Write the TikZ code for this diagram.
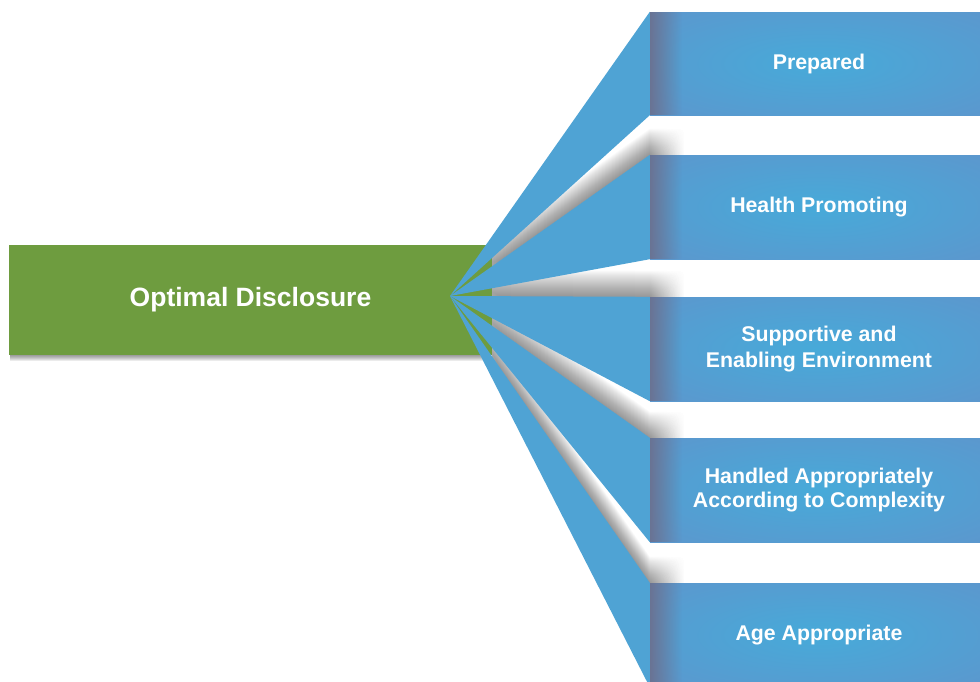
\documentclass[tikz,border=0pt]{standalone}
\usepackage{fontspec}
\setmainfont{Liberation Sans}
\usetikzlibrary{fadings}
\definecolor{grn}{HTML}{6E9C3F}
\definecolor{fanblue}{HTML}{4FA3D4}
\definecolor{boxin}{HTML}{47AAD9}
\definecolor{boxout}{HTML}{6B89C5}
\definecolor{edgesh}{HTML}{6A7393}
\pgfdeclareradialshading{boxrad}{\pgfpoint{0bp}{0bp}}{color(0bp)=(boxin); color(62bp)=(boxout)}
\tikzfading[name=fadeR, left color=transparent!0, right color=transparent!100]
\tikzfading[name=fadeL, left color=transparent!100, right color=transparent!0]
\pgfdeclarelayer{bgZ}
\pgfdeclarelayer{bgA}
\pgfdeclarelayer{bgB}
\pgfsetlayers{bgZ,bgA,bgB,main}
\tikzset{
  bluebox/.style={rectangle, inner sep=0pt, minimum width=338pt, minimum height=104pt,
    shading=boxrad, text=white, font=\fontsize{21.3}{24}\selectfont\bfseries, align=center},
  greenbox/.style={rectangle, inner sep=0pt, minimum width=483pt, minimum height=110pt,
    fill=grn, text=white, font=\fontsize{26.5}{30}\selectfont\bfseries},
  fanshape/.style={fill=fanblue},
  shadowlayer/.style={fill=black, opacity=0.019},
  greenshadow/.style={fill=black, opacity=0.08},
  edgeshade/.style={fill=edgesh, path fading=fadeR},
  gapfade/.style={fill=white, path fading=fadeL},
}
\begin{document}
\begin{tikzpicture}[x=1pt,y=-1pt]
\useasboundingbox (0,0) rectangle (980,681);
% right-hand boxes
\node[bluebox, minimum height=103pt] (b1) at (819,63.5) {Prepared};
\node[bluebox] (b2) at (819,207) {Health Promoting};
\node[bluebox] (b3) at (819,349) {Supportive and\\[2pt]Enabling Environment};
\node[bluebox] (b4) at (819,490) {Handled Appropriately\\According to Complexity};
\node[bluebox] (b5) at (819,635) {Age Appropriate};
\foreach \b in {b1,b2,b3,b4,b5}
  \fill[edgeshade] (\b.north west) rectangle ([xshift=32pt]\b.south west);
% central box
\begin{pgfonlayer}{bgA}
\node[greenbox] (opt) at (250.5,300) {Optimal Disclosure};
\end{pgfonlayer}
\begin{pgfonlayer}{bgZ}
\foreach \k in {1,...,6}
  \fill[greenshadow] ([shift={(1pt,-\k pt)}]opt.north west) rectangle ([shift={(-3pt,-\k pt)}]opt.south east);
\end{pgfonlayer}
\coordinate (apex) at (450,296);
% fans and their shadows
\begin{pgfonlayer}{bgB}
\begin{scope}
\clip (492,0) rectangle (684,681);
\foreach \b in {b2,b3,b4,b5}
  \foreach \k in {1,...,26}
    \fill[shadowlayer] ([yshift=\k pt]apex) -- ([yshift=\k pt]\b.north west)
      -- ([shift={(34pt,\k pt)}]\b.north west) -- ([shift={(34pt,\k pt)}]\b.south west)
      -- ([yshift=\k pt]\b.south west) -- cycle;
\end{scope}
\foreach \a/\b in {b1/b2,b2/b3,b3/b4,b4/b5}
  \fill[gapfade] (\a.south west) rectangle ([xshift=34pt]\b.north west);
\foreach \b in {b1,b2,b3,b4,b5}
  \fill[fanshape] (apex) -- (\b.north west) -- (\b.south west) -- cycle;
\end{pgfonlayer}
\end{tikzpicture}
\end{document}
